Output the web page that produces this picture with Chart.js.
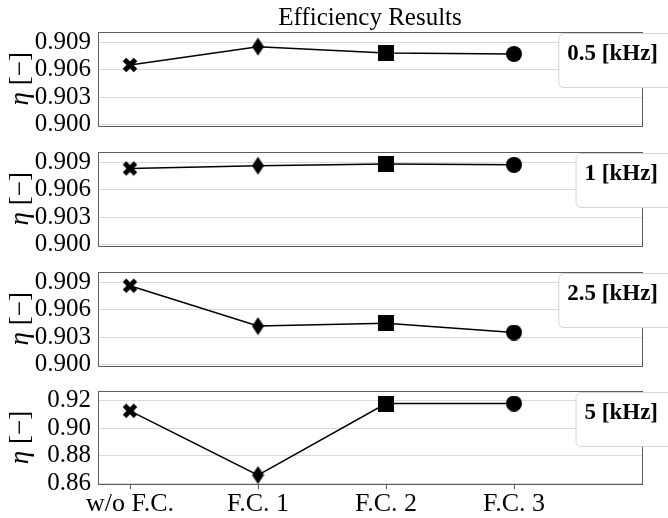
<!DOCTYPE html>
<html>
<head>
<meta charset="utf-8">
<script src="https://cdn.jsdelivr.net/npm/chart.js@4.4.1/dist/chart.umd.min.js"></script>
<style>
  body { margin: 0; background: #fff; }
  #wrap { position: relative; width: 668px; height: 518px; overflow: hidden; }
  #wrap canvas { position: absolute; left: 0; }
</style>
</head>
<body>
<div id="wrap">
  <canvas id="c1" width="668" height="135" style="top:0px"></canvas>
  <canvas id="c2" width="668" height="120" style="top:135px"></canvas>
  <canvas id="c3" width="668" height="120" style="top:255px"></canvas>
  <canvas id="c4" width="668" height="143" style="top:375px"></canvas>
</div>
<script>
// filter configurations along the x axis
const categories = ['w/o F.C.', 'F.C. 1', 'F.C. 2', 'F.C. 3'];
const freqLabels = ['0.5 [kHz]', '1 [kHz]', '2.5 [kHz]', '5 [kHz]'];

// efficiency per switching frequency
const eta05 = [0.9065, 0.9085, 0.9078, 0.9077];
const eta1  = [0.9083, 0.9086, 0.9088, 0.9087];
const eta25 = [0.9086, 0.9042, 0.9045, 0.9035];
const eta5  = [0.9128, 0.8661, 0.9181, 0.9181];

// y tick values
const ticksFine   = [0.900, 0.903, 0.906, 0.909];
const ticksCoarse = [0.86, 0.88, 0.90, 0.92];

const SERIF = '"Liberation Serif", "DejaVu Serif", serif';

// marker images: bold X, thin diamond, square, circle
function makeMarker(w, h, draw) {
  const c = document.createElement('canvas');
  c.width = w; c.height = h;
  const g = c.getContext('2d');
  g.fillStyle = '#000'; g.strokeStyle = '#000';
  draw(g);
  return c;
}
const markX = makeMarker(16, 16, g => {
  g.lineWidth = 5;
  g.beginPath();
  g.moveTo(2.5, 2.5); g.lineTo(13.5, 13.5);
  g.moveTo(13.5, 2.5); g.lineTo(2.5, 13.5);
  g.stroke();
});
const markD = makeMarker(13, 19, g => {
  g.beginPath();
  g.moveTo(6.5, 0.5); g.lineTo(12.5, 9.5); g.lineTo(6.5, 18.5); g.lineTo(0.5, 9.5);
  g.closePath(); g.fill();
});
const markS = makeMarker(16, 16, g => g.fillRect(0, 0, 16, 16));
const markO = makeMarker(16, 16, g => {
  g.beginPath(); g.arc(8, 8, 8, 0, Math.PI * 2); g.fill();
});
const markers = [markX, markD, markS, markO];

// grey frame round the plot area
const frame = {
  id: 'frame',
  beforeDatasetsDraw(chart) {
    const { ctx, chartArea: a } = chart;
    ctx.save();
    ctx.strokeStyle = '#5e5e5e';
    ctx.lineWidth = 1;
    ctx.strokeRect(Math.round(a.left) + 0.5, Math.round(a.top) + 0.5,
                   Math.round(a.right - a.left), Math.round(a.bottom - a.top));
    ctx.restore();
  }
};

// rotated "η [−]" with an italic eta
const etaLabel = {
  id: 'etaLabel',
  afterDraw(chart) {
    const { ctx, chartArea } = chart;
    const mid = (chartArea.top + chartArea.bottom) / 2;
    const f1 = 'italic 27px ' + SERIF, f2 = '27px ' + SERIF;
    ctx.save();
    ctx.translate(28, mid);
    ctx.rotate(-Math.PI / 2);
    ctx.fillStyle = '#000';
    ctx.textBaseline = 'alphabetic';
    ctx.font = f1; const w1 = ctx.measureText('η').width;
    ctx.font = f2; const w2 = ctx.measureText(' [−]').width;
    const x0 = -(w1 + w2) / 2;
    ctx.font = f1; ctx.fillText('η', x0, 0);
    ctx.font = f2; ctx.fillText(' [−]', x0 + w1, 0);
    ctx.restore();
  }
};

// frequency box in the upper right corner
const freqBox = {
  id: 'freqBox',
  afterDraw(chart, args, opts) {
    const { ctx, chartArea } = chart;
    ctx.save();
    ctx.font = 'bold 23px ' + SERIF;
    const w = ctx.measureText(opts.text).width;
    const textRight = 658;
    const left = textRight - w - 9, right = 674;
    const top = chartArea.top + 1, h = 54, r = 5;
    ctx.beginPath();
    ctx.roundRect(left + 0.5, top + 0.5, right - left, h, r);
    ctx.fillStyle = '#fff';
    ctx.fill();
    ctx.strokeStyle = '#d4d4d4';
    ctx.lineWidth = 1;
    ctx.stroke();
    ctx.fillStyle = '#000';
    ctx.textBaseline = 'alphabetic';
    ctx.fillText(opts.text, textRight - w, top + 27);
    ctx.restore();
  }
};

function makePanel(id, values, label, yTicks, yMin, yMax, decimals, pad, opts) {
  const points = values.map((v, i) => ({ x: i, y: v }));
  return new Chart(document.getElementById(id), {
    type: 'line',
    data: {
      datasets: [{
        data: points,
        borderColor: '#000',
        borderWidth: 1.5,
        pointStyle: markers,
        pointRadius: 8,
        pointHoverRadius: 8,
        tension: 0,
        clip: false
      }]
    },
    options: {
      responsive: false,
      animation: false,
      devicePixelRatio: 1,
      events: [],
      layout: { padding: { left: 0, right: 26, top: pad.top, bottom: pad.bottom } },
      scales: {
        x: {
          type: 'linear',
          min: -0.25,
          max: 4,
          display: opts.showX,
          afterBuildTicks: s => { s.ticks = categories.map((c, i) => ({ value: i })); },
          afterFit: s => { s.height = opts.xHeight || 0; s.paddingLeft = 0; s.paddingRight = 0; },
          border: { display: false },
          grid: { drawOnChartArea: false, drawTicks: true, tickLength: 5, color: '#555' },
          ticks: {
            padding: 0,
            color: '#000',
            font: { family: SERIF, size: 26 },
            maxRotation: 0,
            autoSkip: false,
            callback: v => categories[v]
          }
        },
        y: {
          min: yMin,
          max: yMax,
          afterBuildTicks: s => { s.ticks = yTicks.map(v => ({ value: v })); },
          afterFit: s => { s.width = 98; s.paddingTop = 0; s.paddingBottom = 0; },
          border: { display: false },
          grid: { color: '#dadada', lineWidth: 1, drawTicks: false },
          ticks: {
            padding: 7,
            color: '#000',
            autoSkip: false,
            font: { family: SERIF, size: 25 },
            callback: v => v.toFixed(decimals)
          }
        }
      },
      plugins: {
        legend: { display: false },
        tooltip: { enabled: false },
        title: {
          display: !!opts.title,
          text: opts.title || '',
          fullSize: false,
          color: '#000',
          font: { family: SERIF, size: 25, weight: 'normal', lineHeight: 1.12 },
          padding: { top: 4, bottom: 0 }
        },
        freqBox: { text: label }
      }
    },
    plugins: [frame, etaLabel, freqBox]
  });
}

makePanel('c1', eta05, freqLabels[0], ticksFine, 0.8999, 0.9101, 3,
  { top: 0, bottom: 8 }, { showX: false, title: 'Efficiency Results' });
makePanel('c2', eta1, freqLabels[1], ticksFine, 0.8999, 0.9101, 3,
  { top: 17, bottom: 9 }, { showX: false });
makePanel('c3', eta25, freqLabels[2], ticksFine, 0.8999, 0.9101, 3,
  { top: 17, bottom: 9 }, { showX: false });
makePanel('c4', eta5, freqLabels[3], ticksCoarse, 0.8596, 0.9272, 2,
  { top: 16, bottom: 0 }, { showX: true, xHeight: 34 });
</script>
</body>
</html>
